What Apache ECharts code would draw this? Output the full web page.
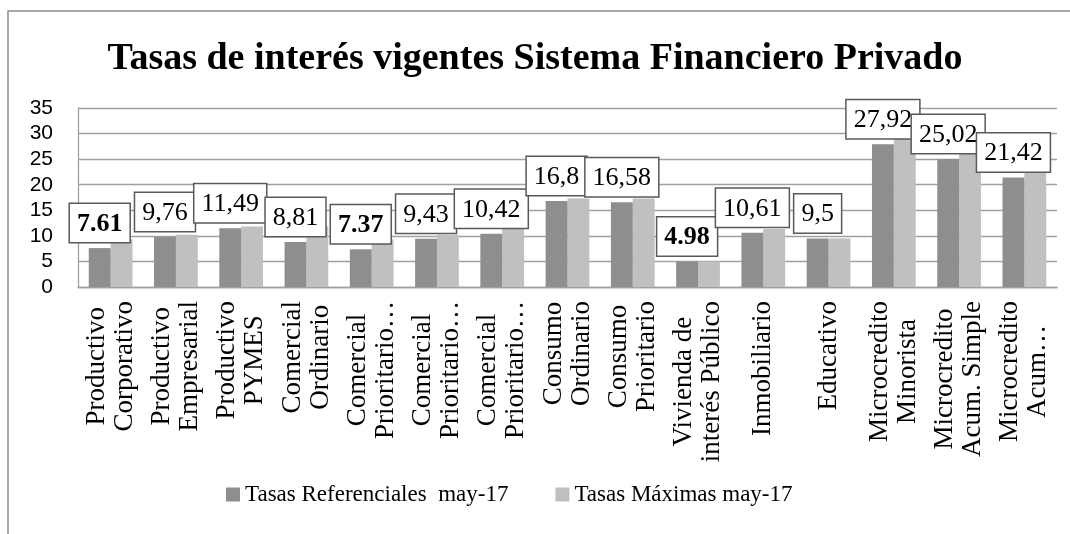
<!DOCTYPE html>
<html>
<head>
<meta charset="utf-8">
<script src="https://cdn.jsdelivr.net/npm/echarts@6/dist/echarts.min.js"></script>
<style>
  html, body { margin: 0; padding: 0; background: #fff; }
  #chart { width: 1070px; height: 534px; }
</style>
</head>
<body>
<div id="chart"></div>
<script>
// categorias (como aparecen en el eje, algunas recortadas)
var categorias = [
  'Productivo\nCorporativo', 'Productivo\nEmpresarial', 'Productivo\nPYMES',
  'Comercial\nOrdinario', 'Comercial\nPrioritario…', 'Comercial\nPrioritario…',
  'Comercial\nPrioritario…', 'Consumo\nOrdinario', 'Consumo\nPrioritario',
  'Vivienda de\ninterés Público', 'Inmobiliario', 'Educativo',
  'Microcredito\nMinorista', 'Microcredito\nAcum. Simple', 'Microcredito\nAcum…'
];
var tasasReferenciales = [7.61, 9.76, 11.49, 8.81, 7.37, 9.43, 10.42, 16.8, 16.58, 4.98, 10.61, 9.5, 27.92, 25.02, 21.42];
var tasasMaximas = [9.33, 10.21, 11.83, 11.83, 9.33, 10.21, 11.83, 17.3, 17.3, 4.99, 11.33, 9.5, 30.5, 27.5, 25.5];
// etiquetas que salen en negrita y con punto decimal
var etiquetasNegrita = [0, 4, 9];
var ejeY = [0, 35, 5];

var serif = 'Liberation Serif';
var chart = echarts.init(document.getElementById('chart'));

var option = {
  animation: false,
  backgroundColor: '#fff',
  title: {
    text: 'Tasas de interés vigentes Sistema Financiero Privado',
    left: 'center',
    top: 35,
    textStyle: { fontFamily: serif, fontSize: 38, fontWeight: 'bold', color: '#000' }
  },
  graphic: [{
    type: 'rect',
    shape: { x: 8, y: 11, width: 1100, height: 600 },
    style: { fill: 'none', stroke: '#8c8c8c', lineWidth: 1.5 },
    silent: true
  }],
  legend: {
    left: 221,
    top: 478,
    itemWidth: 14,
    itemHeight: 14,
    itemGap: 47,
    icon: 'rect',
    textStyle: { fontFamily: serif, fontSize: 23, color: '#000' },
    data: ['Tasas Referenciales  may-17', 'Tasas Máximas may-17']
  },
  grid: { left: 78, right: 13, top: 108, bottom: 247, containLabel: false },
  xAxis: {
    type: 'category',
    data: categorias,
    axisLine: { lineStyle: { color: '#a0a0a0', width: 1.3 } },
    axisTick: { show: false },
    axisLabel: {
      interval: 0,
      rotate: 90,
      margin: 14,
      formatter: function (v) {
        return v.split('\n').map(function (l) { return '{c|' + l + '}'; }).join('\n');
      },
      rich: {
        c: { align: 'center', fontFamily: serif, fontSize: 27, lineHeight: 28, color: '#000' }
      }
    }
  },
  yAxis: {
    type: 'value',
    min: ejeY[0],
    max: ejeY[1],
    interval: ejeY[2],
    axisLine: { show: true, lineStyle: { color: '#a0a0a0', width: 1.3 } },
    axisTick: { show: false },
    axisLabel: { fontFamily: 'Liberation Sans', fontSize: 21, color: '#000', margin: 25 },
    splitLine: { lineStyle: { color: '#a0a0a0', width: 1.3 } }
  },
  series: [
    {
      name: 'Tasas Referenciales  may-17',
      type: 'bar',
      z: 3,
      data: tasasReferenciales,
      itemStyle: { color: '#8e8e8e' },
      barGap: '0%',
      barCategoryGap: '33%',
      label: {
        show: true,
        position: 'top',
        distance: 6,
        backgroundColor: '#fff',
        borderColor: '#595959',
        borderWidth: 1.5,
        padding: [7, 7, 5, 7],
        fontFamily: serif,
        fontSize: 26,
        color: '#000',
        formatter: function (p) {
          if (etiquetasNegrita.indexOf(p.dataIndex) >= 0) {
            return '{b|' + p.value.toFixed(2) + '}';
          }
          return String(p.value).replace('.', ',');
        },
        rich: {
          b: { fontFamily: serif, fontSize: 26, fontWeight: 'bold', color: '#000' }
        }
      }
    },
    {
      name: 'Tasas Máximas may-17',
      type: 'bar',
      z: 2,
      data: tasasMaximas,
      itemStyle: { color: '#c0c0c0' },
      barGap: '0%',
      barCategoryGap: '33%'
    }
  ]
};

chart.setOption(option);
</script>
</body>
</html>
